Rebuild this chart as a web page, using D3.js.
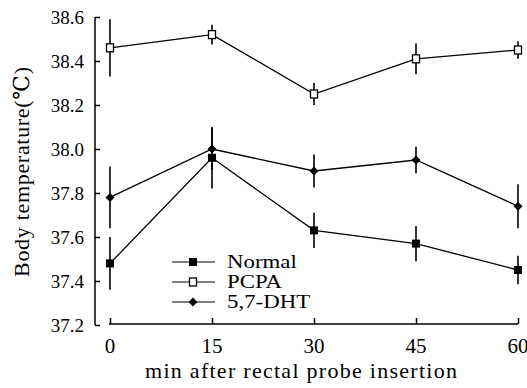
<!DOCTYPE html>
<html><head><meta charset="utf-8">
<script src="https://cdn.jsdelivr.net/npm/d3@7"></script>
<style>body{margin:0;background:#fff}svg{display:block}</style>
</head><body>
<script>
const times = [0, 15, 30, 45, 60];
const xTickLabels = ["0", "15", "30", "45", "60"];
const yTickValues = [37.2, 37.4, 37.6, 37.8, 38.0, 38.2, 38.4, 38.6];
const seriesNames = ["Normal", "PCPA", "5,7-DHT"];
const normal = [37.48, 37.96, 37.63, 37.57, 37.45];
const normalErr = [0.12, 0.14, 0.08, 0.08, 0.065];
const pcpa = [38.46, 38.52, 38.25, 38.41, 38.45];
const pcpaErr = [0.13, 0.045, 0.05, 0.07, 0.04];
const dht = [37.78, 38.00, 37.90, 37.95, 37.74];
const dhtErr = [0.14, 0.095, 0.075, 0.06, 0.1];

const FONT = "'Liberation Serif', 'Times New Roman', Times, 'DejaVu Serif', serif";
const W = 527, H = 388;
const svg = d3.select("body").append("svg").attr("width", W).attr("height", H)
  .attr("font-family", FONT);
const x = d3.scaleLinear().domain([0, 60]).range([110, 518]);
const y = d3.scaleLinear().domain([37.2, 38.6]).range([325, 17]);

function txt(sel) { return sel.attr("font-family", FONT).style("font-family", FONT).attr("fill", "#000"); }

// Y axis
const yAxis = d3.axisRight(y).tickValues(yTickValues).tickSize(5).tickFormat("");
const gy = svg.append("g").attr("transform", "translate(95,0)").call(yAxis);
gy.select(".domain").attr("d", `M0,${y(38.6)}V${y(37.2)}`).attr("stroke-width", 1.5);
gy.selectAll(".tick line").attr("stroke-width", 1.5);
svg.append("g").selectAll("text").data(yTickValues).join("text")
  .attr("x", 84).attr("y", d => y(d)).attr("dy", "0.35em")
  .attr("text-anchor", "end").style("font-size", "19px").call(txt)
  .text(d => d3.format(".1f")(d));

// X axis
const xAxis = d3.axisTop(x).tickValues(times).tickSize(6).tickFormat("");
const gx = svg.append("g").attr("transform", "translate(0,324)").call(xAxis);
gx.select(".domain").attr("d", `M${x(0) - 1},0H${x(60)}`).attr("stroke-width", 1.5);
gx.selectAll(".tick line").attr("stroke-width", 1.5);
svg.append("g").selectAll("text").data(times).join("text")
  .attr("x", d => x(d)).attr("y", 353).attr("text-anchor", "middle")
  .style("font-size", "21px").call(txt).text((d, i) => xTickLabels[i]);

// Titles
svg.append("text").attr("x", 301).attr("y", 378).attr("text-anchor", "middle")
  .style("font-size", "22px").attr("textLength", 312).attr("lengthAdjust", "spacing").call(txt)
  .text("min after rectal probe insertion");
svg.append("text").attr("transform", "translate(29,172) rotate(-90)").attr("text-anchor", "middle")
  .style("font-size", "22px").attr("textLength", 210).attr("lengthAdjust", "spacing").call(txt)
  .text("Body temperature(\u2103)");

const series = [
  {name: seriesNames[0], vals: normal, err: normalErr, type: "square"},
  {name: seriesNames[1], vals: pcpa, err: pcpaErr, type: "open"},
  {name: seriesNames[2], vals: dht, err: dhtErr, type: "diamond"}
];

function marker(g, type) {
  if (type === "square") g.append("rect").attr("x", -4).attr("y", -4).attr("width", 8).attr("height", 8).attr("fill", "#000");
  else if (type === "open") g.append("rect").attr("x", -3.5).attr("y", -4).attr("width", 7).attr("height", 8).attr("fill", "#fff").attr("stroke", "#000").attr("stroke-width", 1.3);
  else g.append("path").attr("d", "M0,-4.5L4.5,0L0,4.5L-4.5,0Z").attr("fill", "#000");
}

const line = d3.line().x((d, i) => x(times[i])).y(d => y(d));
series.forEach(s => {
  const g = svg.append("g");
  g.selectAll("line.err").data(s.vals).join("line").attr("class", "err")
    .attr("x1", (d, i) => x(times[i])).attr("x2", (d, i) => x(times[i]))
    .attr("y1", (d, i) => y(d + s.err[i])).attr("y2", (d, i) => y(d - s.err[i]))
    .attr("stroke", "#000").attr("stroke-width", 1.6);
  g.append("path").datum(s.vals).attr("d", line).attr("fill", "none")
    .attr("stroke", "#000").attr("stroke-width", 1.3);
  s.vals.forEach((v, i) => {
    const m = g.append("g").attr("transform", `translate(${x(times[i])},${y(v)})`);
    marker(m, s.type);
  });
});

// Legend
const legY = [262, 282, 302];
series.forEach((s, i) => {
  const g = svg.append("g").attr("transform", `translate(0,${legY[i]})`);
  g.append("line").attr("x1", 172).attr("x2", 215).attr("stroke", "#000").attr("stroke-width", 1.1);
  const m = g.append("g").attr("transform", "translate(193,0)");
  marker(m, s.type);
  g.append("text").attr("transform", "translate(227,0) scale(1.27,1)").attr("dy", "0.35em")
    .style("font-size", "18px").call(txt).text(s.name);
});
</script>
</body></html>
